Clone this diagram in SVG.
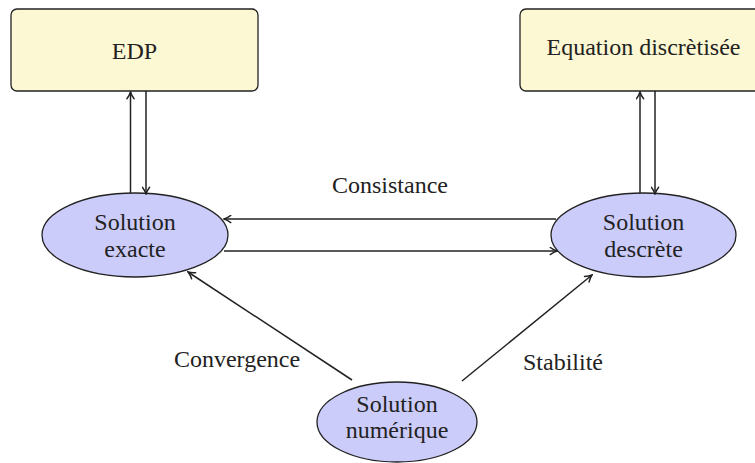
<svg xmlns="http://www.w3.org/2000/svg" width="755" height="463" viewBox="0 0 755 463">
<style>
.box{fill:#fcf8d3;stroke:#222;stroke-width:1.3}
.ell{fill:#ccccfa;stroke:#222;stroke-width:1.3}
.t{font-family:"Liberation Serif","Times New Roman",Times,"DejaVu Serif","Noto Serif",serif;font-size:24px;fill:#222;text-anchor:middle}
.c{stroke:#222;stroke-width:1.5;fill:none;marker-end:url(#a)}
</style>
<defs>
<marker id="a" viewBox="0 0 10 10" refX="9" refY="5" markerWidth="9" markerHeight="9" markerUnits="userSpaceOnUse" orient="auto">
<path d="M1.5,1 Q5.5,4 9,5 Q5.5,6 1.5,9" fill="none" stroke="#222" stroke-width="1.6" stroke-linecap="round"/>
</marker>
</defs>
<g id="edp"><rect class="box" x="11" y="9" width="247" height="82" rx="6"/><text class="t" x="134.5" y="59">EDP</text></g>
<g id="equation"><rect class="box" x="520" y="9" width="247" height="82" rx="6"/><text class="t" x="643.5" y="55">Equation discrètisée</text></g>
<g id="exacte"><ellipse class="ell" cx="135" cy="235" rx="93" ry="42"/><text class="t" x="135" y="230">Solution</text><text class="t" x="135" y="257">exacte</text></g>
<g id="descrete"><ellipse class="ell" cx="643.5" cy="235" rx="92.5" ry="42"/><text class="t" x="643.5" y="230">Solution</text><text class="t" x="643.5" y="257">descrète</text></g>
<g id="numerique"><ellipse class="ell" cx="397" cy="422" rx="80" ry="40"/><text class="t" x="397" y="412">Solution</text><text class="t" x="397" y="438">numérique</text></g>
<g id="connectors">
<line class="c" x1="130.5" y1="193" x2="130.5" y2="92"/>
<line class="c" x1="146" y1="91" x2="146" y2="194"/>
<line class="c" x1="640" y1="193" x2="640" y2="92"/>
<line class="c" x1="655" y1="91" x2="655" y2="194"/>
<line class="c" x1="556" y1="219" x2="224" y2="219"/>
<line class="c" x1="224" y1="251" x2="557" y2="251"/>
<line class="c" x1="352" y1="380" x2="188" y2="272"/>
<line class="c" x1="462" y1="381" x2="592" y2="275"/>
</g>
<g id="labels">
<text class="t" x="390" y="193">Consistance</text>
<text class="t" x="237" y="367">Convergence</text>
<text class="t" x="563" y="370">Stabilité</text>
</g>
</svg>
